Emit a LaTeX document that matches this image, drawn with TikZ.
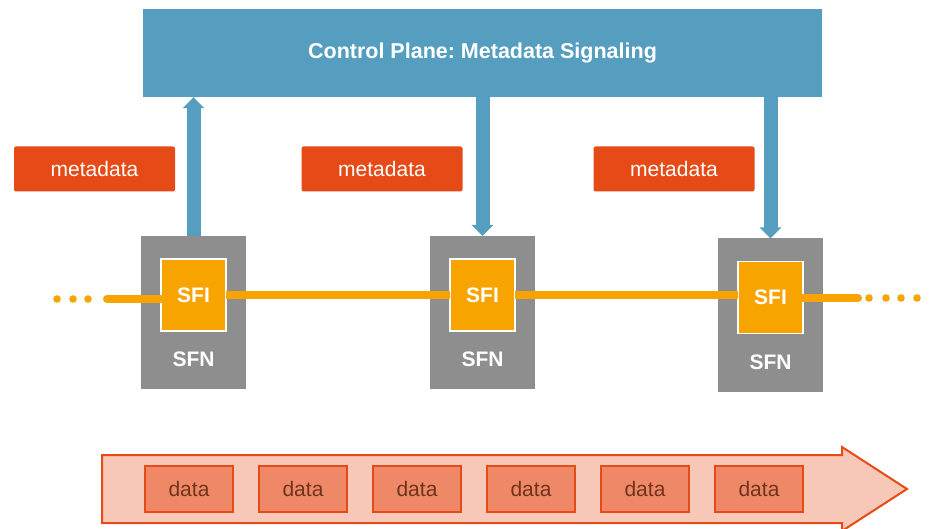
\documentclass[tikz,border=0pt]{standalone}
\usepackage{fontspec}
\setmainfont{Liberation Sans}
\frenchspacing
\usetikzlibrary{positioning,arrows.meta,calc}
\definecolor{cpblue}{RGB}{86,158,192}
\definecolor{metared}{RGB}{230,74,22}
\definecolor{sfngray}{RGB}{142,142,142}
\definecolor{sfiorange}{RGB}{247,163,0}
\definecolor{pktfill}{RGB}{238,136,102}
\definecolor{flowfill}{RGB}{247,200,184}
\definecolor{pkttext}{RGB}{112,52,30}
\tikzset{
  txt/.style={font=\fontsize{21}{24}\selectfont},
  btxt/.style={font=\fontsize{21}{24}\selectfont\bfseries},
  plane/.style={rectangle, fill=cpblue, text=white, font=\fontsize{21.5}{24}\selectfont\bfseries, minimum width=679pt, minimum height=88pt},
  meta/.style={rectangle, rounded corners=2pt, fill=metared, text=white, txt, minimum width=161pt, minimum height=45pt},
  sfn/.style={rectangle, fill=sfngray, inner sep=0, outer sep=0, minimum width=105pt, minimum height=153pt},
  sfi/.style={rectangle, fill=sfiorange, draw=white, line width=1.5pt, outer sep=0, text=white, btxt, minimum width=65pt, minimum height=72pt},
  lbl/.style={text=white, btxt, inner sep=0},
  pkt/.style={rectangle, fill=pktfill, draw=metared, line width=2pt, text=pkttext, txt, minimum width=88pt, minimum height=46pt},
  ctrl/.style={draw=cpblue, line width=14pt, -{Triangle[width=21pt,length=11pt]}},
  flow/.style={draw=sfiorange, line width=8pt},
  stream/.style={fill=flowfill, draw=metared, line width=2pt, line join=miter}
}

\begin{document}
\begin{tikzpicture}[x=1pt, y=-1pt]
  \useasboundingbox (0,0) rectangle (932,529);
  \node[plane] (cp) at (482.5,53) {Control Plane: Metadata Signaling};
  \node[meta] (m_{1}) at (94.5,169) {metadata};
  \node[meta] (m_{2}) at (382,169) {metadata};
  \node[meta] (m_{3}) at (674,169) {metadata};
  \foreach \n/\x/\y in {1/193.5/312.5, 2/482.5/312.5, 3/770.5/315} {
    \node[sfn] (sfn_{\n}) at (\x,\y) {};
    \node[sfi] (sfi_{\n}) [below=23pt of sfn_{\n}.north] {SFI};
    \node[lbl] (l_{\n}) [above=22pt of sfn_{\n}.south] {SFN};
  }
  \draw[ctrl] (sfn_{1}.north) -- (sfn_{1}.north |- cp.south);
  \draw[ctrl] (cp.south -| sfn_{2}.north) -- (sfn_{2}.north);
  \draw[ctrl] (cp.south -| sfn_{3}.north) -- (sfn_{3}.north);
  \coordinate (in) at (107,299);
  \coordinate (out) at (858,298);
  \draw[flow, line cap=round] (in) -- (sfi_{1}.west |- in);
  \draw[flow] (sfi_{1}) -- (sfi_{2});
  \draw[flow] (sfi_{2}.east) -- (sfi_{2}.east -| sfi_{3}.west);
  \draw[flow, line cap=round] (sfi_{3}.east |- out) -- (out);
  \foreach \x in {57,73,88} \fill[sfiorange] (\x,299) circle (3.8pt);
  \foreach \x in {869,886,901,917} \fill[sfiorange] (\x,298) circle (3.8pt);
  \draw[stream] (102,455) -- (842,455) -- (842,447) -- (907,489) -- (842,531) -- (842,523) -- (102,523) -- cycle;
  \foreach \i [evaluate = \i as \x using {189 + 114*(\i-1)}] in {1,...,6} {
    \node[pkt] (d_{\i}) at (\x,489) {data};
  }
\end{tikzpicture}
\end{document}
